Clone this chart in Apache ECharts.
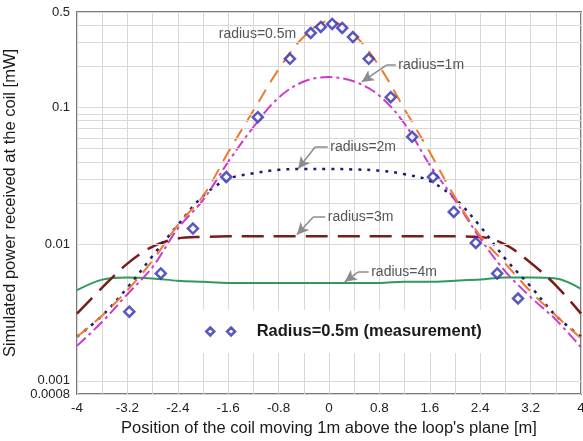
<!DOCTYPE html>
<html>
<head>
<meta charset="utf-8">
<script src="https://cdn.jsdelivr.net/npm/echarts@6/dist/echarts.min.js"></script>
<style>
  html, body { margin: 0; padding: 0; background: #fff; }
  #chart { width: 583px; height: 441px; }
</style>
</head>
<body>
<div id="chart"></div>
<script>
  const FONT = 'Liberation Sans, Arial, sans-serif'

  // coil position [m]
  const xs = [-4, -3.6, -3.2, -2.8, -2.4, -2.0, -1.6, -1.2, -0.8, -0.4, 0, 0.4, 0.8, 1.2, 1.6, 2.0, 2.4, 2.8, 3.2, 3.6, 4]

  // simulated power [mW] per loop radius
  const r05 = [0.0021, 0.003, 0.0046, 0.0076, 0.0138, 0.0225, 0.047, 0.095, 0.19, 0.33, 0.43, 0.34, 0.2, 0.097, 0.047, 0.022, 0.0115, 0.0072, 0.0045, 0.003, 0.00205]
  const r1 = [0.0018, 0.0027, 0.0043, 0.0068, 0.013, 0.021, 0.04, 0.072, 0.118, 0.155, 0.167, 0.155, 0.122, 0.076, 0.038, 0.021, 0.011, 0.0063, 0.0041, 0.0028, 0.00176]
  const r2 = [0.0021, 0.003, 0.0048, 0.0082, 0.0138, 0.0225, 0.03, 0.033, 0.035, 0.0355, 0.0355, 0.0352, 0.0345, 0.0325, 0.029, 0.0215, 0.0135, 0.0078, 0.0049, 0.003, 0.0021]
  const r3 = [0.0031, 0.0048, 0.0072, 0.0096, 0.011, 0.0113, 0.0114, 0.0114, 0.0114, 0.0114, 0.0114, 0.0114, 0.0114, 0.0114, 0.0114, 0.0114, 0.0113, 0.0099, 0.0073, 0.005, 0.0031]
  const r4 = [0.0046, 0.0055, 0.0057, 0.0056, 0.0054, 0.0053, 0.0052, 0.0052, 0.0052, 0.0052, 0.0052, 0.0052, 0.0052, 0.0053, 0.0053, 0.0054, 0.0055, 0.0057, 0.0057, 0.0056, 0.0047]

  // measurement, radius 0.5m
  const measX = [-3.17, -2.67, -2.16, -1.63, -1.13, -0.62, -0.29, -0.13, 0.05, 0.21, 0.38, 0.63, 0.98, 1.32, 1.65, 1.98, 2.33, 2.67, 3.0]
  const measY = [0.0032, 0.0061, 0.013, 0.031, 0.085, 0.227, 0.351, 0.389, 0.409, 0.382, 0.328, 0.227, 0.119, 0.061, 0.031, 0.0172, 0.0102, 0.0061, 0.004]

  // log grid: minor lines between the decades
  const minorGrid = [0.0009, 0.002, 0.003, 0.004, 0.005, 0.006, 0.007, 0.008, 0.009,
    0.02, 0.03, 0.04, 0.05, 0.06, 0.07, 0.08, 0.09, 0.2, 0.3, 0.4]

  // curve labels: text anchor, elbow start/bend and arrow tip (data coords)
  const notes = [
    { text: 'radius=0.5m', at: [-1.75, 0.345] },
    { text: 'radius=1m', at: [1.10, 0.205], from: [1.06, 0.205], bend: [0.92, 0.205], tip: [0.52, 0.154] },
    { text: 'radius=2m', at: [0.02, 0.0514], from: [-0.02, 0.0514], bend: [-0.22, 0.0514], tip: [-0.49, 0.0356] },
    { text: 'radius=3m', at: [-0.02, 0.0158], from: [-0.06, 0.0158], bend: [-0.25, 0.0158], tip: [-0.51, 0.0117] },
    { text: 'radius=4m', at: [0.67, 0.00624], from: [0.63, 0.00624], bend: [0.46, 0.00624], tip: [0.25, 0.0053] }
  ]

  const pairs = ys => ys.map((y, i) => [xs[i], y])

  function curve(name, ys, color, type, width) {
    return {
      name: name,
      type: 'line',
      data: pairs(ys),
      showSymbol: false,
      smooth: 0.35,
      silent: true,
      z: 3,
      lineStyle: { color: color, type: type, width: width, cap: 'butt' }
    }
  }

  const arrowLines = []
  notes.forEach(n => {
    if (!n.tip) return
    arrowLines.push([{ coord: n.from, symbol: 'none' }, { coord: n.bend, symbol: 'none' }])
    arrowLines.push([{ coord: n.bend, symbol: 'none' }, { coord: n.tip, symbol: 'arrow' }])
  })

  const chart = echarts.init(document.getElementById('chart'))

  chart.setOption({
    animation: false,
    backgroundColor: '#fff',
    textStyle: { fontFamily: FONT },
    grid: {
      left: 77, right: 2, top: 12, bottom: 47,
      outerBoundsMode: 'none',
      containLabel: false,
      show: true, borderColor: '#7a7a7a', borderWidth: 2
    },
    legend: {
      data: [{
        name: 'Radius=0.5m (measurement)',
        icon: 'path://M5,0L10,5L5,10L0,5Z M31,0L36,5L31,10L26,5Z'
      }],
      left: 183, top: 310,
      padding: [13, 6, 13, 22],
      backgroundColor: '#fff',
      itemWidth: 32, itemHeight: 8,
      itemStyle: { color: '#fff', borderColor: '#2e2eb0', borderWidth: 2.5 },
      selectedMode: false,
      textStyle: { fontFamily: FONT, fontSize: 16.5, fontWeight: 'bold', color: '#1a1a1a', padding: [0, 0, 0, 15] }
    },
    xAxis: {
      type: 'value',
      min: -4, max: 4, interval: 0.8,
      name: "Position of the coil moving 1m above the loop's plane [m]",
      nameLocation: 'middle', nameGap: 25,
      nameTextStyle: { fontFamily: FONT, fontSize: 16.5, color: '#1a1a1a' },
      axisLine: { show: false },
      axisTick: { show: false },
      axisLabel: {
        fontFamily: FONT, fontSize: 13.5, color: '#222', margin: 7,
        showMinLabel: true, showMaxLabel: true, hideOverlap: false,
        formatter: v => String(+v.toFixed(1))
      },
      splitLine: { show: true, lineStyle: { color: '#d8d8d8', width: 1 } },
      minorTick: { show: false, splitNumber: 2 },
      minorSplitLine: { show: true, lineStyle: { color: '#d8d8d8', width: 1 } }
    },
    yAxis: {
      type: 'log',
      logBase: 10,
      min: 0.0008, max: 0.5,
      name: 'Simulated power received at the coil [mW]',
      nameLocation: 'middle', nameGap: 57, nameRotate: 90,
      nameTextStyle: { fontFamily: FONT, fontSize: 16.5, color: '#1a1a1a' },
      axisLine: { show: false },
      axisTick: { show: false },
      axisLabel: {
        fontFamily: FONT, fontSize: 13, color: '#222', margin: 7, lineHeight: 13,
        showMinLabel: true, showMaxLabel: true, hideOverlap: false,
        formatter: v => String(+v.toPrecision(6))
      },
      splitLine: { show: true, lineStyle: { color: '#d8d8d8', width: 1 } }
    },
    series: [
      {
        name: 'minor grid',
        type: 'line',
        data: [],
        silent: true,
        z: 1,
        markLine: {
          silent: true,
          symbol: ['none', 'none'],
          label: { show: false },
          lineStyle: { color: '#d8d8d8', width: 1, type: 'solid' },
          data: minorGrid.map(v => ({ yAxis: v }))
        }
      },
      curve('radius=4m', r4, '#2f9a5c', 'solid', 2),
      curve('radius=3m', r3, '#7b1c1c', [22, 10], 2.5),
      curve('radius=2m', r2, '#1c1c70', [3, 6], 2.5),
      curve('radius=1m', r1, '#cc3acc', [12, 4, 3, 4], 2),
      curve('radius=0.5m', r05, '#ee7a2e', [14, 9], 2),
      {
        name: 'Radius=0.5m (measurement)',
        type: 'scatter',
        data: measX.map((x, i) => [x, measY[i]]),
        symbol: 'diamond',
        symbolSize: [10, 10],
        z: 5,
        itemStyle: { color: '#fff', borderColor: '#2e2eb0', borderWidth: 2.5 }
      },
      {
        name: 'notes',
        type: 'line',
        data: [],
        silent: true,
        z: 4,
        markLine: {
          silent: true,
          symbol: ['none', 'arrow'],
          symbolSize: [9, 12],
          label: { show: false },
          lineStyle: { color: '#8c8c8c', width: 1.5, type: 'solid' },
          data: arrowLines
        },
        markPoint: {
          silent: true,
          symbol: 'circle',
          symbolSize: 0,
          data: notes.map(n => ({
            coord: n.at,
            label: {
              show: true, position: 'right', distance: 0,
              formatter: n.text,
              fontFamily: FONT, fontSize: 14, color: '#555'
            }
          }))
        }
      }
    ]
  })
</script>
</body>
</html>
